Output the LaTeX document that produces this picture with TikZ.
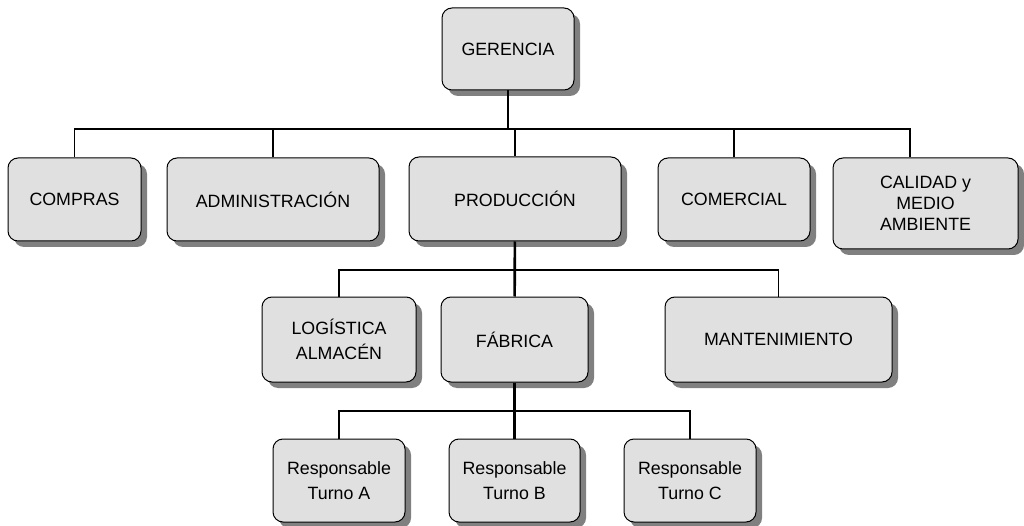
\documentclass[tikz,border=0pt]{standalone}
\usepackage{fontspec}
\setmainfont{Liberation Sans}
\usetikzlibrary{shadows}
\definecolor{cajagris}{HTML}{E0E0E0}
\definecolor{sombragris}{HTML}{808080}
\begin{document}
\begin{tikzpicture}[x=1pt,y=-1pt,
        caja/.style={draw=black, line width=1pt, fill=cajagris, rounded corners=10pt,
            inner sep=0pt, align=center, font=\fontsize{17.8}{25}\selectfont,
            drop shadow={shadow xshift=6pt, shadow yshift=-6pt, fill=sombragris, opacity=1}},
        linea/.style={line width=1.6pt},
        gruesa/.style={line width=2.6pt}]
                \useasboundingbox (0,0) rectangle (1024,526);
                \node[caja, minimum width=132, minimum height=82] (ger) at (508,49) {GERENCIA};
                \node[caja, minimum width=133, minimum height=83] (com) at (74.5,199.5) {COMPRAS};
                \node[caja, minimum width=212, minimum height=83] (adm) at (273,199.5) {ADMINISTRACIÓN};
                \node[caja, minimum width=212, minimum height=84] (prod) at (515,199) {PRODUCCIÓN};
                \node[caja, minimum width=152, minimum height=83] (comer) at (734,199.5) {COMERCIAL};
                \node[caja, minimum width=185, minimum height=91, font=\fontsize{17.8}{21}\selectfont] (cal) at (925.5,203.5) {CALIDAD y\\MEDIO\\AMBIENTE};
                \node[caja, minimum width=154, minimum height=85] (log) at (339,339.5) {LOGÍSTICA\\ALMACÉN};
                \node[caja, minimum width=147, minimum height=85] (fab) at (514.5,339.5) {FÁBRICA};
                \node[caja, minimum width=227, minimum height=85] (mant) at (778.5,339.5) {MANTENIMIENTO};
                \node[caja, minimum width=132, minimum height=83] (ta) at (339,480.5) {Responsable\\Turno A};
                \node[caja, minimum width=131, minimum height=83] (tb) at (514.5,480.5) {Responsable\\Turno B};
                \node[caja, minimum width=132, minimum height=83] (tc) at (690,480.5) {Responsable\\Turno C};
                \coordinate (barra1) at (0,129);
                \coordinate (barra2) at (0,270);
                \coordinate (barra3) at (0,411);
                \coordinate (jcal) at (910,129);
                \draw[linea] (ger) -- (ger |- barra1);
                \draw[linea] (com) |- (adm |- barra1);
                \draw[gruesa] (adm |- barra1) -- (comer |- barra1);
                \draw[linea] (jcal |- cal.north) |- (comer |- barra1);
                \foreach \n in {adm,prod,comer}
                {
                    \draw[linea] (\n) -- (\n |- barra1);
                }
                \draw[gruesa] (prod) -- (fab);
                \draw[linea] (log) |- (mant |- barra2) -- (mant);
                \draw[gruesa] (fab) -- (tb);
                \draw[linea] (ta) |- (tc |- barra3) -- (tc);
            \end{tikzpicture}
\end{document}
